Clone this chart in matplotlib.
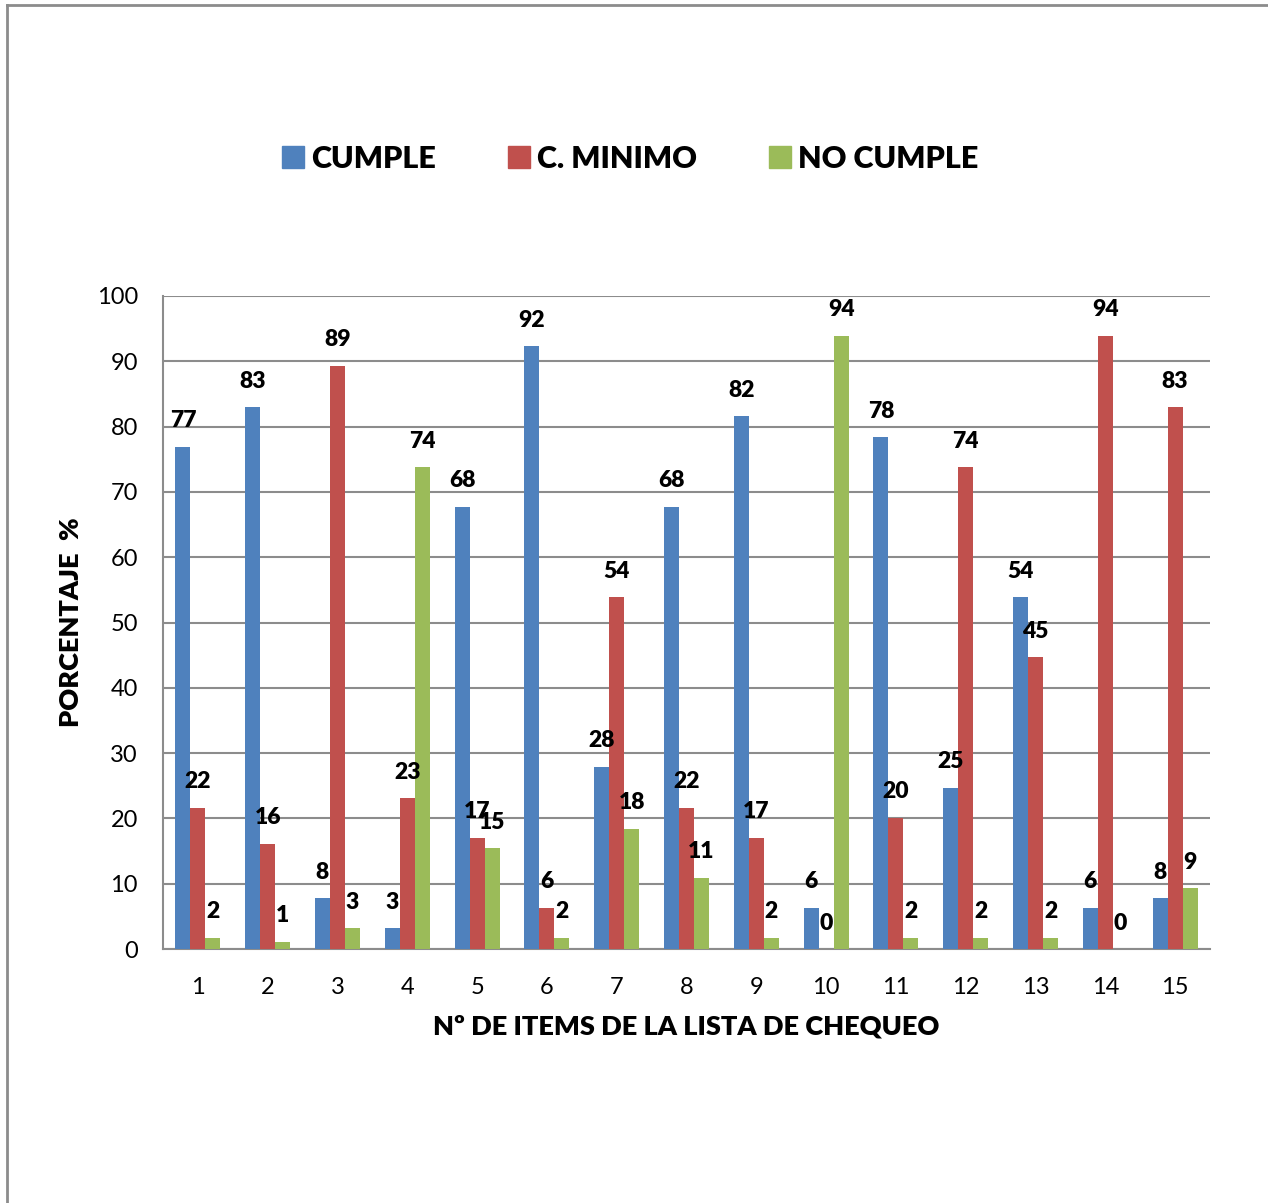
import matplotlib
matplotlib.use("Agg")
import matplotlib.pyplot as plt
import numpy as np
from matplotlib.lines import Line2D

items = [str(i) for i in range(1, 16)]
cumple =    [76.9, 83.0, 7.8, 3.2, 67.7, 92.3, 27.9, 67.7, 81.6, 6.3, 78.4, 24.7, 53.9, 6.3, 7.8]
c_minimo =  [21.6, 16.1, 89.3, 23.1, 17.0, 6.3, 53.9, 21.6, 17.0, 0.0, 20.1, 73.8, 44.7, 93.9, 83.0]
no_cumple = [1.7, 1.1, 3.2, 73.8, 15.4, 1.7, 18.4, 10.9, 1.7, 93.9, 1.7, 1.7, 1.7, 0.0, 9.3]
series_names = ["CUMPLE", "C. MINIMO", "NO CUMPLE"]
colors = ["#4F81BD", "#C0504D", "#9BBB59"]

plt.rcParams['font.family'] = ['Lato', 'DejaVu Sans']

fig = plt.figure(figsize=(12.68, 12.03), dpi=100)
ax = fig.add_axes([163/1268, 1 - 949/1203, (1210-163)/1268, (949-296)/1203])

x = np.arange(len(items))
w = 0.215
for k, (vals, name, col) in enumerate(zip([cumple, c_minimo, no_cumple], series_names, colors)):
    xs = x + (k - 1) * w
    ax.bar(xs, vals, width=w, color=col, label=name, zorder=3)
    for xi, v in zip(xs, vals):
        ax.annotate(f"{int(round(v))}", (xi, v), xytext=(0, 26), textcoords="offset pixels",
                    ha="center", va="center", fontsize=16.5, fontweight="heavy", color="black", zorder=5)

ax.set_xlim(-0.5, len(items) - 0.5)
ax.set_ylim(0, 100)
ax.set_yticks(range(0, 101, 10))
ax.set_xticks(x)
ax.set_xticklabels(items)
ax.tick_params(axis='both', length=0, labelsize=17, colors='black')
ax.tick_params(axis='y', pad=18)
ax.tick_params(axis='x', pad=20)
ax.yaxis.grid(True, color="#8C8C8C", linewidth=1.5, zorder=0)
ax.set_axisbelow(True)
for s in ["top", "right"]:
    ax.spines[s].set_visible(False)
for s in ["left", "bottom"]:
    ax.spines[s].set_color("#8C8C8C")
    ax.spines[s].set_linewidth(1.5)

ax.set_ylabel("PORCENTAJE  %", fontsize=19.5, fontweight="heavy", labelpad=10)
ax.set_xlabel("Nº DE ITEMS DE LA LISTA DE CHEQUEO", fontsize=19.5, fontweight="heavy", labelpad=12)

handles = [Line2D([0], [0], marker='s', linestyle='', markersize=16, markerfacecolor=c, markeredgecolor=c)
           for c in colors]
fig.legend(handles, series_names, loc="center", bbox_to_anchor=(628/1268, 1 - 159/1203), ncol=3,
           frameon=False, prop={'size': 22, 'weight': 'heavy'}, handletextpad=0.1, columnspacing=2.2,
           handlelength=1.0)

# outer frame
fig.add_artist(Line2D([7/1268, 7/1268], [0, 1 - 5/1203], transform=fig.transFigure, color="#8C8C8C", linewidth=2))
fig.add_artist(Line2D([7/1268, 1], [1 - 5/1203, 1 - 5/1203], transform=fig.transFigure, color="#8C8C8C", linewidth=2))

fig.savefig("out.png", dpi=100, facecolor="white")
